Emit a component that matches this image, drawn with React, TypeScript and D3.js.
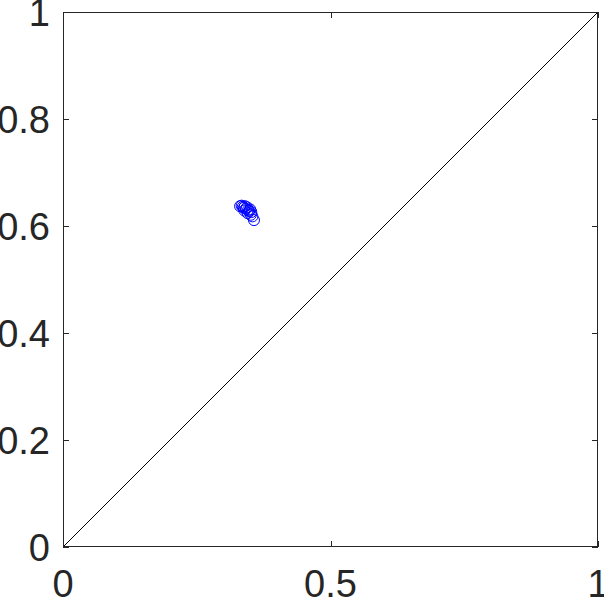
import React, { useEffect, useRef } from "react";
import * as d3 from "d3";

// scatter values
const xVals = [0.331, 0.334, 0.336, 0.338, 0.340, 0.342, 0.344, 0.346, 0.348, 0.350, 0.352, 0.339, 0.345, 0.351, 0.357, 0.354];
const yVals = [0.637, 0.638, 0.636, 0.634, 0.637, 0.632, 0.635, 0.630, 0.628, 0.631, 0.626, 0.629, 0.624, 0.621, 0.611, 0.618];
const xTicks = [0, 0.5, 1];
const yTicks = [0, 0.2, 0.4, 0.6, 0.8, 1];
const diagonal = [0, 1];

const drawChart = (svgRef) => {
	const width = 604,
		height = 598,
		left = 63,
		right = 598,
		top = 12,
		bottom = 547,
		axisColor = "#262626",
		font = "'Liberation Sans', Arial, sans-serif";

	const svg = d3.select(svgRef.current);
	svg.selectAll("*").remove();
	svg.attr("width", width).attr("height", height);

	const x = d3.scaleLinear().domain([0, 1]).range([left, right]);
	const y = d3.scaleLinear().domain([0, 1]).range([bottom, top]);

	// diagonal reference line
	svg
		.append("line")
		.attr("x1", x(diagonal[0]))
		.attr("y1", y(diagonal[0]))
		.attr("x2", x(diagonal[1]))
		.attr("y2", y(diagonal[1]))
		.attr("stroke", "#000")
		.attr("stroke-width", 1);

	// points
	svg
		.append("g")
		.selectAll("circle")
		.data(xVals.map((v, i) => [v, yVals[i]]))
		.enter()
		.append("circle")
		.attr("cx", (d) => x(d[0]))
		.attr("cy", (d) => y(d[1]))
		.attr("r", 5.5)
		.attr("fill", "none")
		.attr("stroke", "#0000ff")
		.attr("stroke-width", 1);

	// box
	svg
		.append("rect")
		.attr("x", left + 0.5)
		.attr("y", top + 0.5)
		.attr("width", right - left - 1)
		.attr("height", bottom - top - 1)
		.attr("fill", "none")
		.attr("stroke", axisColor)
		.attr("stroke-width", 1);

	// ticks (inward) mirrored on all four sides
	const tk = 6;
	const g = svg.append("g").attr("stroke", axisColor).attr("stroke-width", 1);
	xTicks.forEach((t) => {
		const px = Math.round(x(t)) + 0.5;
		g.append("line").attr("x1", px).attr("x2", px).attr("y1", bottom).attr("y2", bottom - tk);
		g.append("line").attr("x1", px).attr("x2", px).attr("y1", top).attr("y2", top + tk);
	});
	yTicks.forEach((t) => {
		const py = Math.round(y(t)) + 0.5;
		g.append("line").attr("x1", left).attr("x2", left + tk).attr("y1", py).attr("y2", py);
		g.append("line").attr("x1", right).attr("x2", right - tk).attr("y1", py).attr("y2", py);
	});

	// tick labels
	svg
		.append("g")
		.selectAll("text")
		.data(xTicks)
		.enter()
		.append("text")
		.attr("x", (d) => x(d))
		.attr("y", 597)
		.attr("text-anchor", "middle")
		.attr("font-family", font)
		.attr("font-size", 38)
		.attr("fill", axisColor)
		.text((d) => d3.format("")(d));

	svg
		.append("g")
		.selectAll("text")
		.data(yTicks)
		.enter()
		.append("text")
		.attr("x", 50)
		.attr("y", (d) => y(d) + 14)
		.attr("text-anchor", "end")
		.attr("font-family", font)
		.attr("font-size", 38)
		.attr("fill", axisColor)
		.text((d) => d3.format("")(d));
};

const App = () => {
	const svg = useRef(null);

	useEffect(() => {
		drawChart(svg);
	}, []);

	return (
		<div style={{ position: "absolute", left: 0, top: 0 }}>
			<svg ref={svg} style={{ display: "block" }} />
		</div>
	);
};

export default App;
